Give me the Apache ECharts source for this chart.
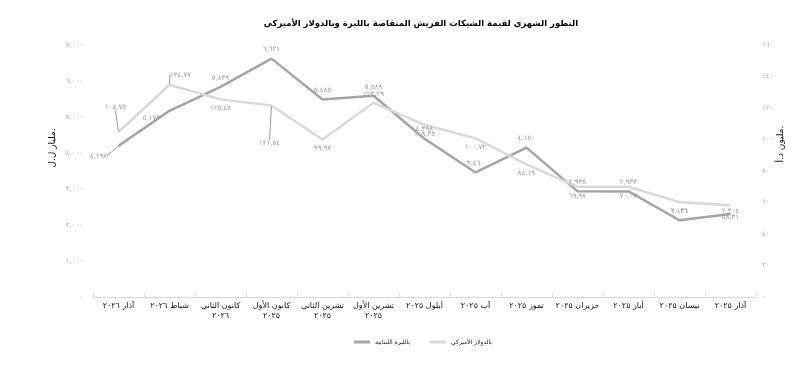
<!DOCTYPE html>
<html>
<head>
<meta charset="utf-8">
<script src="https://cdn.jsdelivr.net/npm/echarts@6/dist/echarts.min.js"></script>
<style>html,body{margin:0;padding:0;background:#fff}#c{width:805px;height:372px}</style>
</head>
<body>
<div id="c"></div>
<script>
// Chronological order; x-axis is inverted (latest month on the left)
const categories = ['آذار ٢٠٢٥','نيسان ٢٠٢٥','أيار ٢٠٢٥','حزيران ٢٠٢٥','تموز ٢٠٢٥','آب ٢٠٢٥','أيلول ٢٠٢٥','تشرين الأول\n٢٠٢٥','تشرين الثاني\n٢٠٢٥','كانون الأول\n٢٠٢٥','كانون الثاني\n٢٠٢٦','شباط ٢٠٢٦','آذار ٢٠٢٦'];
const lbpValues = [2304, 2131, 2933, 2935, 4150, 3460, 4398, 5589, 5485, 6621, 5839, 5173, 4198];
const usdValues = [58.31, 60.26, 70.03, 69.97, 84.19, 100.72, 109.35, 123.29, 99.97, 121.54, 125.48, 134.77, 104.75];
const lbpName = 'بالليرة اللبنانية';
const usdName = 'بالدولار الأميركي';
const titleText = 'التطور الشهري لقيمة الشيكات الفريش المتقاصة بالليرة وبالدولار الأميركي';
const leftAxisName = 'مليار ل.ل.';
const rightAxisName = 'مليون د.أ.';

const AR = '٠١٢٣٤٥٦٧٨٩';
function ar(s){ return String(s).replace(/[0-9]/g, d => AR[+d]); }
function fmtThousands(v){ return ar(String(Math.round(v)).replace(/\B(?=(\d{3})+(?!\d))/g, ',')); }
function fmtDec(v){ return ar(v.toFixed(2).replace('.', ',')); }

const FONT = 'DejaVu Sans';

// label placement tweaks (style only)
const lbpLabelPos = {12:{position:'left', line:true}, 11:{position:'left', line:true}};
const lbpLayout = {12:{dx:-6, dy:10}, 11:{dx:-4, dy:7}, 0:{dx:0, dy:6}};
const usdLabelPos = {12:{position:'top', line:true}, 11:{position:'top', line:true}, 9:{position:'bottom', line:true}, 7:{position:'top'}};
const usdLayout = {12:{dx:-3, dy:-16}, 11:{dx:11, dy:-1}, 9:{dx:-2, dy:29}, 0:{dx:0, dy:3}};

function buildData(values, posMap, defPos){
  return values.map((v, i) => {
    const p = posMap[i] || {};
    return {
      value: v,
      label: {position: p.position || defPos},
      labelLine: {show: !!p.line}
    };
  });
}

const chart = echarts.init(document.getElementById('c'), null, {renderer:'canvas'});
chart.setOption({
  animation: false,
  backgroundColor: '#fff',
  textStyle: {fontFamily: FONT},
  title: {
    text: titleText, left: 416, top: 14, textAlign: 'center',
    textStyle: {fontFamily: FONT, fontSize: 8.5, fontWeight: 'bold', color: '#000'}
  },
  legend: {
    data: [lbpName, usdName], left: 349, top: 334, itemWidth: 16, itemHeight: 3, itemGap: 20,
    icon: 'rect',
    textStyle: {fontFamily: FONT, fontSize: 6, color: '#222'}
  },
  grid: {left: 93, right: 49, top: 45, bottom: 75, containLabel: false},
  xAxis: {
    type: 'category', data: categories, inverse: true, boundaryGap: true,
    axisLine: {lineStyle: {color: '#d9d9d9', width: 1}},
    axisTick: {show: true, inside: true, length: 4, lineStyle: {color: '#d9d9d9'}},
    axisLabel: {fontFamily: FONT, fontSize: 8, color: '#111', interval: 0, margin: 4, lineHeight: 10}
  },
  yAxis: [
    {type: 'value', min: 0, max: 7000, interval: 1000, position: 'left',
     axisLine: {show: false}, axisTick: {show: false}, splitLine: {show: false},
     axisLabel: {fontFamily: FONT, fontSize: 7, color: '#aaa', margin: 10, formatter: v => fmtThousands(v)}},
    {type: 'value', min: 0, max: 160, interval: 20, position: 'right',
     axisLine: {show: false}, axisTick: {show: false}, splitLine: {show: false},
     axisLabel: {fontFamily: FONT, fontSize: 7, color: '#aaa', margin: 6, formatter: v => ar(v)}}
  ],
  graphic: [
    {type: 'text', x: 53, y: 148, rotation: Math.PI/2,
     style: {text: leftAxisName, font: '9px "DejaVu Sans"', fill: '#111', align: 'center', verticalAlign: 'middle'}},
    {type: 'text', x: 781, y: 144, rotation: Math.PI/2,
     style: {text: rightAxisName, font: '9px "DejaVu Sans"', fill: '#111', align: 'center', verticalAlign: 'middle'}}
  ],
  series: [
    {
      name: lbpName, type: 'line', yAxisIndex: 0,
      data: buildData(lbpValues, lbpLabelPos, 'top'),
      symbol: 'circle', symbolSize: 1, showSymbol: true,
      itemStyle: {color: '#a5a5a5'},
      lineStyle: {color: '#a5a5a5', width: 2.5},
      label: {show: true, fontFamily: FONT, fontSize: 7, color: '#999', distance: 5,
              formatter: p => fmtThousands(p.value)},
      labelLine: {lineStyle: {color: '#999', width: 1}},
      labelLayout: p => lbpLayout[p.dataIndex] || {}
    },
    {
      name: usdName, type: 'line', yAxisIndex: 1,
      data: buildData(usdValues, usdLabelPos, 'bottom'),
      symbol: 'circle', symbolSize: 1, showSymbol: true,
      itemStyle: {color: '#d9d9d9'},
      lineStyle: {color: '#d9d9d9', width: 2.5},
      label: {show: true, fontFamily: FONT, fontSize: 7, color: '#999', distance: 5,
              formatter: p => fmtDec(p.value)},
      labelLine: {lineStyle: {color: '#999', width: 1}},
      labelLayout: p => usdLayout[p.dataIndex] || {}
    }
  ]
});
</script>
</body>
</html>
